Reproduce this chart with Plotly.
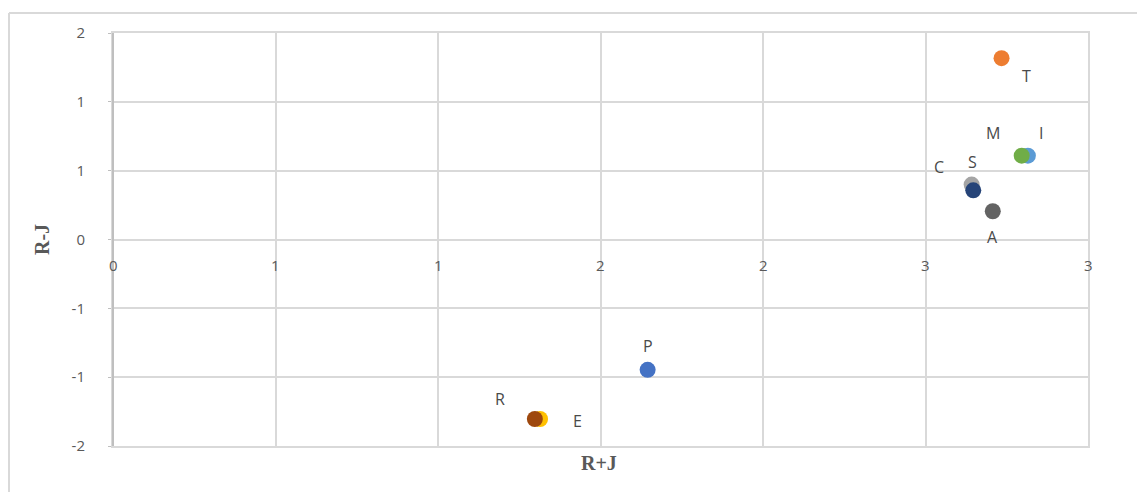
import plotly.graph_objects as go

# Data
labels = ["P", "T", "C", "E", "I", "M", "S", "A", "R"]
x_vals = [1.645, 2.734, 2.642, 1.314, 2.815, 2.796, 2.647, 2.707, 1.298]
y_vals = [-0.947, 1.317, 0.399, -1.304, 0.609, 0.609, 0.357, 0.205, -1.304]
colors = ["#4472C4", "#ED7D31", "#A5A5A5", "#FFC000", "#5B9BD5", "#70AD47", "#264478", "#636363", "#9E480E"]
# label offsets in pixels (dx, dy up)
label_dx = [0, 25, -33, 37, 13, -29, -1, 0, -35]
label_dy = [24, -18, 18, -2, 23, 23, 28, -26, 20]

x_tickvals = [0, 0.5, 1, 1.5, 2, 2.5, 3]
x_ticktext = ["0", "1", "1", "2", "2", "3", "3"]
y_tickvals = [-1.5, -1, -0.5, 0, 0.5, 1, 1.5]
y_ticktext = ["-2", "-1", "-1", "0", "1", "1", "2"]

W, H = 1137, 492
L, R, T, B = 113, 49, 33, 46

fig = go.Figure()
for lab, xv, yv, c in zip(labels, x_vals, y_vals, colors):
    fig.add_trace(go.Scatter(x=[xv], y=[yv], mode="markers", name=lab,
                             marker=dict(size=16, color=c, line=dict(width=0)),
                             showlegend=False))

ann = []
for lab, xv, yv, dx, dy in zip(labels, x_vals, y_vals, label_dx, label_dy):
    ann.append(dict(x=xv, y=yv, xref="x", yref="y", text=lab, showarrow=False,
                    xshift=dx, yshift=dy, xanchor="center", yanchor="middle",
                    font=dict(family="Open Sans, Liberation Sans, sans-serif", size=16, color="#4a4a4a")))
for tv, tt in zip(x_tickvals, x_ticktext):
    ann.append(dict(x=tv, y=0, xref="x", yref="y", text=tt, showarrow=False,
                    yshift=-25, xanchor="center", yanchor="middle",
                    font=dict(family="Open Sans, Liberation Sans, sans-serif", size=15, color="#595959")))

pw = W - L - R
ph = H - T - B
ann.append(dict(x=(599 - L) / pw, y=(H - B - 463) / ph, xref="paper", yref="paper", text="<b>R+J</b>",
                showarrow=False, xanchor="center", yanchor="middle",
                font=dict(family="Liberation Serif, Times New Roman, serif", size=20, color="#595959")))
ann.append(dict(x=(42 - L) / pw, y=(H - B - 240) / ph, xref="paper", yref="paper", text="<b>R-J</b>",
                showarrow=False, xanchor="center", yanchor="middle", textangle=-90,
                font=dict(family="Liberation Serif, Times New Roman, serif", size=20, color="#595959")))

bx = (9 - L) / pw
by = (H - B - 13) / ph
shapes = [
    dict(type="line", xref="paper", yref="paper", x0=bx, x1=(W - L) / pw, y0=by, y1=by,
         line=dict(color="#D9D9D9", width=2)),
    dict(type="line", xref="paper", yref="paper", x0=bx, x1=bx, y0=by, y1=(H - B - H) / ph,
         line=dict(color="#D9D9D9", width=2)),
    dict(type="line", xref="paper", yref="paper", x0=0, x1=0, y0=0, y1=1,
         line=dict(color="#BFBFBF", width=2)),
]

fig.update_layout(
    width=W, height=H,
    margin=dict(l=L, r=R, t=T, b=B),
    plot_bgcolor="white", paper_bgcolor="white",
    annotations=ann, shapes=shapes,
    xaxis=dict(range=[0, 3], tickvals=x_tickvals, showticklabels=False,
               showgrid=True, gridcolor="#D9D9D9", gridwidth=2, zeroline=False,
               showline=True, mirror=True, linecolor="#D9D9D9", linewidth=2),
    yaxis=dict(range=[-1.5, 1.5], tickvals=y_tickvals, ticktext=y_ticktext,
               showgrid=True, gridcolor="#D9D9D9", gridwidth=2,
               zeroline=True, zerolinecolor="#D9D9D9", zerolinewidth=2,
               showline=True, mirror=True, linecolor="#D9D9D9", linewidth=2,
               ticks="outside", ticklen=3, tickcolor="#BFBFBF",
               ticklabelstandoff=20,
               tickfont=dict(family="Open Sans, Liberation Sans, sans-serif", size=15, color="#595959")),
)

fig.write_html("out.html", config={"displayModeBar": False},
               post_script="document.body.style.margin='0';document.body.style.overflow='hidden';")
